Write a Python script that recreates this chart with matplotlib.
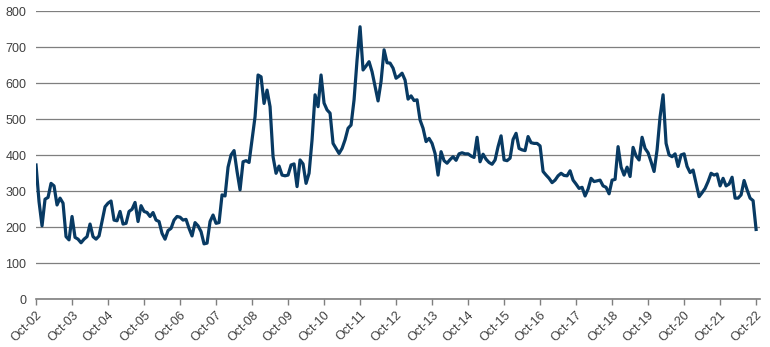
import numpy as np
import matplotlib
matplotlib.use('Agg')
import matplotlib.pyplot as plt

# monthly series, Oct-02 .. Oct-22
values = [
    # Oct-02 .. Sep-03
    373, 271, 204, 278, 283, 322, 315, 262, 281, 267, 174, 165,
    # Oct-03 .. Sep-04
    230, 172, 167, 157, 167, 174, 209, 174, 167, 176, 216, 257,
    # Oct-04 .. Sep-05
    267, 273, 220, 218, 244, 209, 211, 244, 250, 269, 216, 260,
    # Oct-05 .. Sep-06
    244, 241, 230, 241, 220, 216, 183, 167, 191, 197, 220, 230,
    # Oct-06 .. Sep-07
    228, 220, 222, 197, 176, 213, 204, 188, 154, 156, 216, 234,
    # Oct-07 .. Sep-08
    211, 213, 290, 287, 367, 401, 413, 355, 304, 382, 385, 380,
    # Oct-08 .. Sep-09
    443, 507, 623, 618, 544, 581, 535, 396, 350, 370, 345, 343,
    # Oct-09 .. Sep-10
    345, 373, 376, 313, 387, 376, 322, 350, 443, 568, 535, 623,
    # Oct-10 .. Sep-11
    545, 526, 517, 433, 419, 405, 419, 443, 475, 484, 554, 665,
    # Oct-11 .. Sep-12
    757, 637, 648, 660, 632, 591, 551, 605, 693, 657, 656, 642,
    # Oct-12 .. Sep-13
    614, 620, 628, 609, 556, 565, 552, 554, 498, 475, 438, 447,
    # Oct-13 .. Sep-14
    433, 405, 345, 410, 385, 378, 388, 396, 386, 404, 407, 404,
    # Oct-14 .. Sep-15
    404, 398, 394, 450, 382, 403, 389, 380, 375, 387, 424, 454,
    # Oct-15 .. Sep-16
    387, 385, 392, 444, 461, 419, 415, 413, 452, 435, 433, 433,
    # Oct-16 .. Sep-17
    426, 355, 345, 336, 324, 331, 343, 350, 344, 343, 357, 331,
    # Oct-17 .. Sep-18
    320, 308, 311, 287, 306, 336, 327, 329, 331, 315, 311, 293,
    # Oct-18 .. Sep-19
    331, 333, 424, 367, 345, 367, 341, 422, 398, 387, 450, 419,
    # Oct-19 .. Sep-20
    407, 382, 355, 415, 507, 568, 433, 401, 396, 404, 369, 401,
    # Oct-20 .. Sep-21
    404, 369, 352, 359, 322, 285, 296, 308, 327, 350, 345, 348,
    # Oct-21 .. Sep-22
    315, 336, 315, 320, 339, 281, 281, 290, 330, 304, 281, 274,
    # Oct-22
    194,
]
tick_labels = ['Oct-%02d' % yr for yr in range(2, 23)]
y_ticks = [0, 100, 200, 300, 400, 500, 600, 700, 800]

line_color = '#083a63'
grid_color = '#7f7f7f'
text_color = '#404040'

plt.rcParams['font.family'] = ['Liberation Sans', 'DejaVu Sans']

fig = plt.figure(figsize=(7.7, 3.47), dpi=100)
ax = fig.add_axes([0.0468, 0.1375, 0.9402, 0.83])

x = np.arange(len(values))
ax.plot(x, values, color=line_color, linewidth=2.3, solid_joinstyle='round', zorder=3)

ax.set_ylim(0, 800)
ax.set_xlim(0, 241.3)
ax.set_yticks(y_ticks)
ax.set_yticklabels([str(v) for v in y_ticks])
ax.set_xticks(np.arange(0, len(values), 12))
ax.set_xticklabels(tick_labels, rotation=45, ha='right', va='top',
                   rotation_mode='anchor')

ax.grid(axis='y', color=grid_color, linewidth=0.9)
ax.set_axisbelow(True)
for side in ['left', 'right', 'top']:
    ax.spines[side].set_visible(False)
ax.spines['bottom'].set_color(grid_color)
ax.spines['bottom'].set_linewidth(1.2)

ax.tick_params(axis='y', length=0, pad=7, labelsize=9, labelcolor=text_color)
ax.tick_params(axis='x', length=4, width=1, color=grid_color, pad=3,
               labelsize=9, labelcolor=text_color)

fig.savefig('out.png', dpi=100)
